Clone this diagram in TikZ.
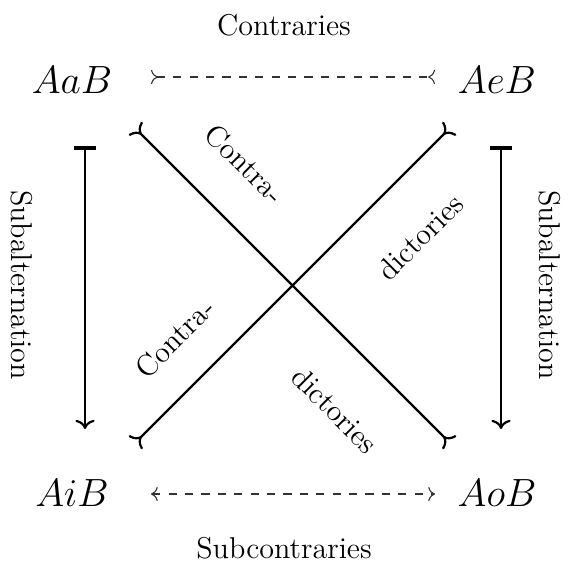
\documentclass[tikz,border=0pt]{standalone}
\usetikzlibrary{arrows.meta}
\begin{document}
\begin{tikzpicture}[x=0.3656pt,y=-0.3656pt,
  lbl/.style={inner sep=0pt,font=\fontsize{11}{13}\selectfont},
  mlbl/.style={inner sep=0pt,font=\fontsize{15.5}{18}\selectfont},
  dashline/.style={dashed,thin,black!80},
  diag/.style={thick},
  subalt/.style={thick,{Bar[width=8pt,line width=1.4pt]}-{To}}]
\useasboundingbox (0,0) rectangle (569,569);
\node[lbl] (contr) at (284,25) {Contraries};
\node[lbl] (subc) at (284,548) {Subcontraries};
\node[mlbl] (aab) at (72,80) {$AaB$};
\node[mlbl] (aeb) at (497,80) {$AeB$};
\node[mlbl] (aib) at (72,493) {$AiB$};
\node[mlbl] (aob) at (497,493) {$AoB$};
\coordinate (t1) at (151,77);
\coordinate (t2) at (435,77);
\coordinate (b1) at (151,494);
\coordinate (b2) at (435,494);
\draw[dashline,>-<] (t1) -- (t2);
\draw[dashline,<->] (b1) -- (b2);
\coordinate (d1) at (135,128);
\coordinate (d2) at (450,443);
\coordinate (d3) at (450,128);
\coordinate (d4) at (135,443);
\draw[diag,>-<] (d1) -- (d2);
\draw[diag,>-<] (d3) -- (d4);
\coordinate (l1) at (85,146);
\coordinate (l2) at (85,429);
\coordinate (r1) at (501,146);
\coordinate (r2) at (501,429);
\draw[subalt] (l1) -- (l2);
\draw[subalt] (r1) -- (r2);
\node[lbl,rotate=-90] (sl) at (22,285) {Subalternation};
\node[lbl,rotate=-90] (sr) at (550,285) {Subalternation};
\node[lbl,rotate=-45] (c1) at (245,164) {Contra-};
\node[lbl,rotate=45] (dd1) at (420,237) {dictories};
\node[lbl,rotate=45] (c2) at (175,338) {Contra-};
\node[lbl,rotate=-45] (dd2) at (335,410) {dictories};
\end{tikzpicture}
\end{document}
